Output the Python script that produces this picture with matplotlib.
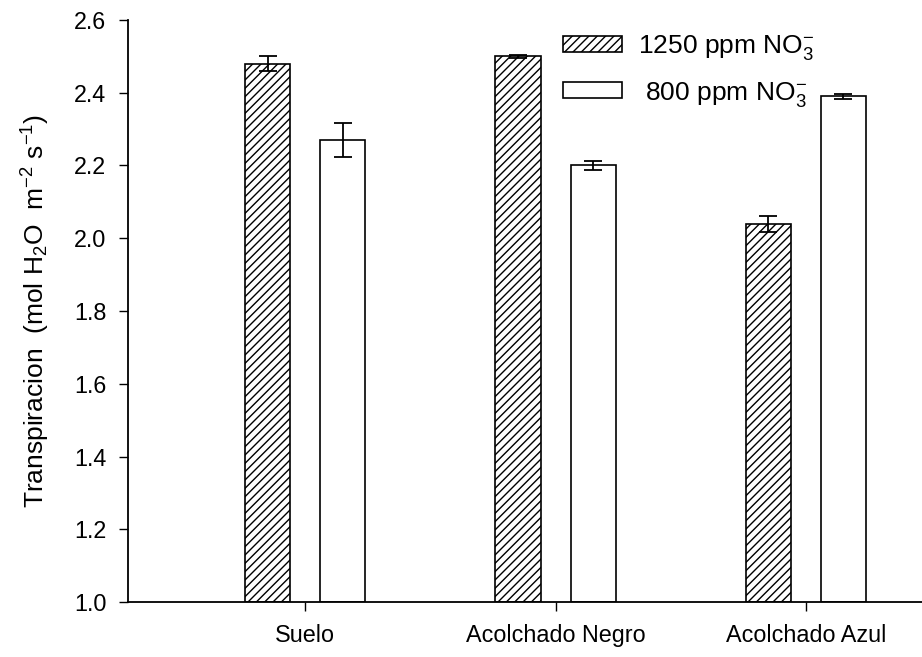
import matplotlib
matplotlib.use("Agg")
import matplotlib.pyplot as plt
from matplotlib.patches import Patch
import numpy as np

plt.rcParams['font.family'] = ['Liberation Sans', 'DejaVu Sans']
plt.rcParams['mathtext.fontset'] = 'custom'
plt.rcParams['mathtext.rm'] = 'Liberation Sans'
plt.rcParams['mathtext.it'] = 'Liberation Sans:italic'
plt.rcParams['mathtext.bf'] = 'Liberation Sans:bold'
plt.rcParams['hatch.linewidth'] = 1.0

categories = ["Suelo", "Acolchado Negro", "Acolchado Azul"]
vals_1250 = [2.48, 2.50, 2.04]
err_1250 = [0.02, 0.005, 0.022]
vals_800 = [2.27, 2.20, 2.39]
err_800 = [0.047, 0.012, 0.007]
labels = ["1250 ppm NO$_3^{-}$", " 800 ppm NO$_3^{-}$"]
yticks = [1.0, 1.2, 1.4, 1.6, 1.8, 2.0, 2.2, 2.4, 2.6]

fs = 16.8
fig = plt.figure(figsize=(9.22, 6.57), dpi=100)
ax = fig.add_axes([128/922, 1 - 602/657, 1 - 128/922, (602 - 20)/657])

x = np.arange(len(categories))
w = 0.18
off = 0.15
base = 1.0
ax.bar(x - off, np.array(vals_1250) - base, w, bottom=base, color='white',
       edgecolor='black', hatch='////', linewidth=1.2, zorder=2)
ax.bar(x + off, np.array(vals_800) - base, w, bottom=base, color='white',
       edgecolor='black', linewidth=1.2, zorder=2)
ax.errorbar(x - off, vals_1250, yerr=err_1250, fmt='none', ecolor='black',
            elinewidth=1.3, capsize=6.5, capthick=1.3, zorder=3)
ax.errorbar(x + off, vals_800, yerr=err_800, fmt='none', ecolor='black',
            elinewidth=1.3, capsize=6.5, capthick=1.3, zorder=3)

ax.set_xlim(-0.708, 2.464)
ax.set_ylim(1.0, 2.6)
ax.set_yticks(yticks)
ax.set_yticklabels([f"{t:.1f}" for t in yticks], fontsize=fs)
ax.set_xticks(x)
ax.set_xticklabels(categories, fontsize=fs)
ax.tick_params(axis='both', direction='out', length=6.5, width=1.0)
ax.tick_params(axis='x', pad=9)
ax.tick_params(axis='y', pad=9)

for s in ['top', 'right']:
    ax.spines[s].set_visible(False)
for s in ['left', 'bottom']:
    ax.spines[s].set_linewidth(1.3)

ax.set_ylabel("Transpiracion  (mol H$_2$O  m$^{-2}$ s$^{-1}$)", fontsize=19, labelpad=16)

handles = [Patch(facecolor='white', edgecolor='black', hatch='////', linewidth=1.2),
           Patch(facecolor='white', edgecolor='black', linewidth=1.2)]
ax.legend(handles, labels, loc='upper left', bbox_to_anchor=(0.548, 0.977),
          frameon=False, fontsize=19, handlelength=2.25, handleheight=0.57,
          handletextpad=0.6, labelspacing=0.65, borderpad=0.0, borderaxespad=0.0)

fig.savefig("out.png", dpi=100)
